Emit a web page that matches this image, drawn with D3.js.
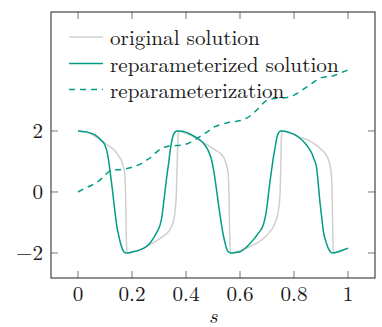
<!DOCTYPE html>
<html><head><meta charset="utf-8">
<script src="https://cdn.jsdelivr.net/npm/d3@7"></script>
<style>html,body{margin:0;padding:0;background:#fff;}svg{display:block;}</style>
</head><body>
<svg id="chart" width="382" height="327"></svg>
<script>
// ---- data ----
const seriesNames = ["original solution", "reparameterized solution", "reparameterization"];
const xTicks = [0, 0.2, 0.4, 0.6, 0.8, 1];
const yTicks = [-2, 0, 2];
const xLabel = "s";

const origS = [0,0.04,0.081,0.1,0.12,0.137,0.149,0.162,0.168,0.173,0.176,0.178,0.18,0.183,0.2,0.22,0.245,0.267,0.29,0.316,0.335,0.347,0.355,0.36,0.364,0.367,0.37,0.373,
  0.39,0.41,0.446,0.47,0.507,0.525,0.538,0.546,0.551,0.556,0.559,0.561,0.563,0.566,0.6,0.62,0.662,0.69,0.711,0.726,0.736,0.743,0.748,0.751,0.753,0.756,
  0.78,0.8,0.82,0.853,0.88,0.9,0.915,0.926,0.933,0.938,0.941,0.943,0.945,0.948,0.965,0.98,1.0];
const origY = [2,1.93,1.72,1.6,1.47,1.35,1.2,1.0,0.83,0.6,0.0,-1.0,-1.8,-2.0,-1.96,-1.92,-1.83,-1.72,-1.6,-1.45,-1.3,-1.12,-0.9,-0.6,-0.1,0.8,1.7,2.0,
  1.95,1.88,1.72,1.6,1.38,1.28,1.16,1.0,0.85,0.6,0.0,-1.0,-1.8,-2.0,-1.93,-1.86,-1.68,-1.5,-1.3,-1.1,-0.86,-0.55,-0.1,0.8,1.7,2.0,
  1.95,1.88,1.8,1.7,1.55,1.4,1.27,1.1,0.89,0.6,0.0,-1.0,-1.8,-2.0,-1.96,-1.91,-1.85];

const repS = [0,0.03,0.063,0.085,0.1,0.108,0.113,0.119,0.125,0.131,0.137,0.143,0.15,0.156,0.165,0.174,0.182,0.2,0.22,0.242,0.262,0.279,0.293,0.304,0.311,0.316,0.322,0.328,0.335,0.341,0.347,0.353,0.36,0.368,
  0.385,0.396,0.415,0.433,0.452,0.47,0.481,0.489,0.496,0.501,0.508,0.514,0.52,0.526,0.532,0.538,0.545,0.551,0.558,0.565,0.58,0.6,0.625,0.649,0.668,0.686,0.693,0.699,0.705,0.711,0.717,0.723,0.73,0.736,0.742,0.75,
  0.765,0.785,0.804,0.822,0.841,0.856,0.866,0.875,0.884,0.89,0.896,0.903,0.909,0.918,0.927,0.935,0.942,0.95,0.964,0.98,1.0];
const repY = [2,1.97,1.87,1.7,1.53,1.3,1.05,0.67,0.25,-0.2,-0.65,-1.08,-1.4,-1.63,-1.88,-1.99,-2.0,-1.97,-1.93,-1.85,-1.72,-1.52,-1.3,-1.08,-0.8,-0.43,0.0,0.45,0.9,1.32,1.65,1.87,1.97,2.0,
  1.99,1.97,1.9,1.81,1.7,1.54,1.38,1.21,1.0,0.78,0.4,0.01,-0.38,-0.75,-1.1,-1.41,-1.68,-1.88,-1.97,-2.0,-1.99,-1.96,-1.8,-1.57,-1.35,-1.08,-0.85,-0.54,-0.1,0.34,0.72,1.1,1.45,1.76,1.93,2.0,
  1.99,1.94,1.87,1.76,1.6,1.42,1.27,1.05,0.78,0.25,-0.32,-0.85,-1.3,-1.62,-1.85,-1.96,-2.0,-1.99,-1.96,-1.91,-1.84];

const paramS = [0,0.026,0.063,0.08,0.1,0.115,0.125,0.149,0.186,0.21,0.236,0.255,0.273,0.29,0.31,0.33,0.347,0.384,0.405,0.421,0.445,0.47,0.49,0.507,0.526,0.55,0.575,0.6,0.625,0.645,0.662,0.68,0.699,0.72,0.736,0.785,0.805,0.822,0.84,0.859,0.878,0.896,0.915,0.933,0.95,0.97,0.983,1.0];
const paramY = [0,0.12,0.28,0.38,0.56,0.67,0.72,0.73,0.78,0.84,0.94,1.05,1.16,1.3,1.43,1.49,1.51,1.54,1.58,1.65,1.78,1.92,2.04,2.14,2.2,2.26,2.3,2.34,2.42,2.55,2.69,2.86,3.0,3.06,3.07,3.12,3.2,3.29,3.4,3.51,3.63,3.73,3.77,3.78,3.82,3.89,3.94,4.0];

// ---- layout ----
const svg = d3.select("#chart");
const L = 51, R = 375, T = 12, B = 278;
const x = d3.scaleLinear().domain([-0.1, 1.1]).range([L, R]);
const y = d3.scaleLinear().domain([-2.82, 5.9]).range([B, T]);
const teal = "#009d84", gray = "#cfcfcf", ink = "#1a1a1a";
const font = "'Latin Modern Roman', 'Liberation Serif', serif";
const fs = "21.2px";
function txt(sel) { return sel.style("font-family", font).style("font-size", fs).attr("fill", ink); }

svg.append("defs").append("clipPath").attr("id", "clip")
  .append("rect").attr("x", L).attr("y", T).attr("width", R - L).attr("height", B - T);

const line = d3.line().x(d => x(d[0])).y(d => y(d[1])).curve(d3.curveMonotoneX);
const g = svg.append("g").attr("clip-path", "url(#clip)");
g.append("path").datum(origS.map((s, i) => [s, origY[i]]))
  .attr("d", line).attr("fill", "none").attr("stroke", gray).attr("stroke-width", 1.5);
g.append("path").datum(repS.map((s, i) => [s, repY[i]]))
  .attr("d", line).attr("fill", "none").attr("stroke", teal).attr("stroke-width", 1.5);
g.append("path").datum(paramS.map((s, i) => [s, paramY[i]]))
  .attr("d", line).attr("fill", "none").attr("stroke", teal).attr("stroke-width", 1.5)
  .attr("stroke-dasharray", "6,5");

// ticks (inside, all four sides)
const tl = 7, tc = "#777";
xTicks.forEach(t => {
  svg.append("line").attr("x1", x(t)).attr("x2", x(t)).attr("y1", B).attr("y2", B - tl).attr("stroke", tc).attr("stroke-width", 1);
  svg.append("line").attr("x1", x(t)).attr("x2", x(t)).attr("y1", T).attr("y2", T + tl).attr("stroke", tc).attr("stroke-width", 1);
  txt(svg.append("text").attr("x", x(t)).attr("y", 301).attr("text-anchor", "middle")).text(d3.format("")(t));
});
yTicks.forEach(t => {
  svg.append("line").attr("x1", L).attr("x2", L + tl).attr("y1", y(t)).attr("y2", y(t)).attr("stroke", tc).attr("stroke-width", 1);
  svg.append("line").attr("x1", R).attr("x2", R - tl).attr("y1", y(t)).attr("y2", y(t)).attr("stroke", tc).attr("stroke-width", 1);
  txt(svg.append("text").attr("x", 43).attr("y", y(t) + 7).attr("text-anchor", "end"))
    .text(t < 0 ? "\u2212" + Math.abs(t) : String(t));
});

svg.append("rect").attr("x", L).attr("y", T).attr("width", R - L).attr("height", B - T)
  .attr("fill", "none").attr("stroke", "#333").attr("stroke-width", 1.1);

txt(svg.append("text").attr("x", 213).attr("y", 323).attr("text-anchor", "middle"))
  .style("font-style", "italic").text(xLabel);

// legend
const legY = [37, 63.5, 89.5];
const legStyles = [{c: gray, d: null}, {c: teal, d: null}, {c: teal, d: "6,5"}];
seriesNames.forEach((n, i) => {
  const ln = svg.append("line").attr("x1", 69).attr("x2", 103).attr("y1", legY[i]).attr("y2", legY[i])
    .attr("stroke", legStyles[i].c).attr("stroke-width", 1.5);
  if (legStyles[i].d) ln.attr("stroke-dasharray", legStyles[i].d);
  txt(svg.append("text").attr("x", 110).attr("y", legY[i] + 8)).text(n);
});
</script>
</body></html>
